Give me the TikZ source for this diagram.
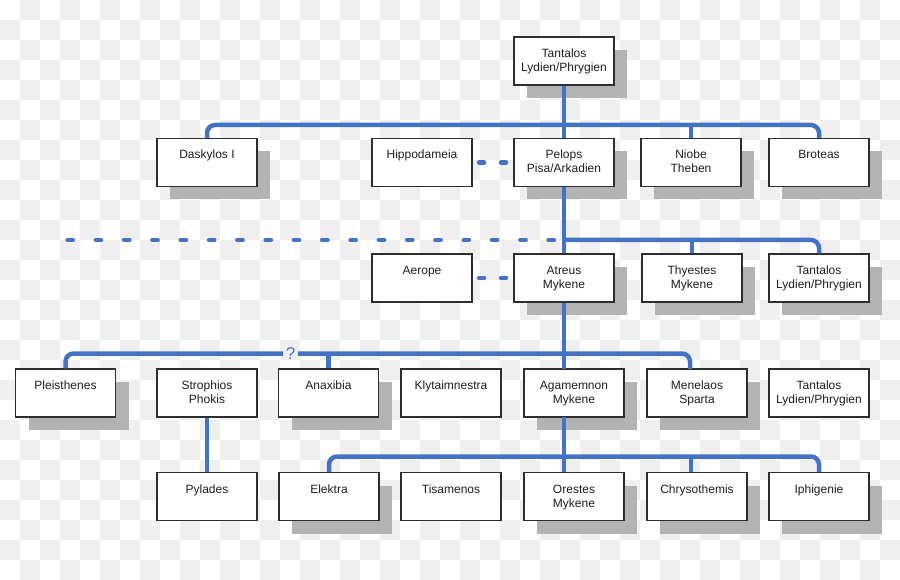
\documentclass[tikz,border=0pt]{standalone}
\usepackage{fontspec}
\setmainfont{Liberation Sans}
\usetikzlibrary{shadows}
\definecolor{famblue}{HTML}{4472C4}
\definecolor{shadowgray}{HTML}{B3B3B3}
\definecolor{checkgray}{HTML}{EFEFEF}
\definecolor{txtgray}{HTML}{1E1E1E}
\definecolor{edgegray}{HTML}{2E2E2E}
\newcommand\famtxt[1]{\parbox[c][48pt][t]{100pt}{\centering\rule{0pt}{20.5pt}#1}}
\tikzset{
  person/.style={draw=edgegray, line width=1.1pt, fill=white, inner sep=0pt,
    font=\fontsize{12}{14}\selectfont, text=txtgray},
  shadowed/.style={person, general shadow={shadow xshift=13pt, shadow yshift=-13pt, fill=shadowgray}},
  conn/.style={draw=famblue, line width=4.5pt, rounded corners=8pt},
  marriage/.style={draw=famblue, line width=4.5pt, line cap=round, dash pattern=on 5pt off 17pt, dash phase=15.5pt},
  unknownline/.style={draw=famblue, line width=4.5pt, line cap=round, dash pattern=on 5.3pt off 23pt},
}
\begin{document}
\begin{tikzpicture}[x=1pt,y=-1pt]
\useasboundingbox (0,0) rectangle (900,580);
\fill[white] (0,0) rectangle (900,580);
\foreach \i in {0,...,44}{
  \foreach \j in {0,...,28}{
    \pgfmathtruncatemacro\cpar{mod(\i+\j,2)}
    \ifnum\cpar=1 \fill[checkgray] (20*\i,20*\j) rectangle ++(20,20); \fi
  }
}
% row 0
\node[shadowed] (tant0) at (564,61) {\famtxt{Tantalos\\Lydien/Phrygien}};
% row 1
\node[shadowed] (dask) at (207,162.5) {\famtxt{Daskylos I}};
\node[person] (hipp) at (422,162.5) {\famtxt{Hippodameia}};
\node[shadowed] (pelops) at (564,162.5) {\famtxt{Pelops\\Pisa/Arkadien}};
\node[shadowed] (niobe) at (691,162.5) {\famtxt{Niobe\\Theben}};
\node[shadowed] (brot) at (819,162.5) {\famtxt{Broteas}};
% row 2
\node[person] (aerope) at (422,278) {\famtxt{Aerope}};
\node[shadowed] (atreus) at (564,278) {\famtxt{Atreus\\Mykene}};
\node[shadowed] (thyes) at (692,278) {\famtxt{Thyestes\\Mykene}};
\node[shadowed] (tant2) at (819,278) {\famtxt{Tantalos\\Lydien/Phrygien}};
% row 3
\node[shadowed] (pleis) at (65.5,393) {\famtxt{Pleisthenes}};
\node[person] (stroph) at (207,393) {\famtxt{Strophios\\Phokis}};
\node[shadowed] (anax) at (328.5,393) {\famtxt{Anaxibia}};
\node[person] (klyt) at (451,393) {\famtxt{Klytaimnestra}};
\node[shadowed] (agam) at (574,393) {\famtxt{Agamemnon\\Mykene}};
\node[shadowed] (mene) at (697,393) {\famtxt{Menelaos\\Sparta}};
\node[person] (tant3) at (819,393) {\famtxt{Tantalos\\Lydien/Phrygien}};
% row 4
\node[person] (pyl) at (207,496.5) {\famtxt{Pylades}};
\node[shadowed] (elek) at (329,496.5) {\famtxt{Elektra}};
\node[person] (tisam) at (451,496.5) {\famtxt{Tisamenos}};
\node[shadowed] (orest) at (574,496.5) {\famtxt{Orestes\\Mykene}};
\node[shadowed] (chrys) at (697,496.5) {\famtxt{Chrysothemis}};
\node[shadowed] (iphi) at (819,496.5) {\famtxt{Iphigenie}};

% junction coordinates
\coordinate (b1) at (564,125);
\coordinate (b2) at (564,240);
\coordinate (b3) at (564,353.5);
\coordinate (b4) at (564,456.5);
\coordinate (dl1) at (67.5,240);
\coordinate (dl2) at (555,240);
\coordinate (menedrop) at (690,369);
\coordinate (chrysdrop) at (691,472);
\coordinate (agamtop) at (564,369);
\coordinate (agambot) at (564,417);
\coordinate (oresttop) at (564,472);
\node[text=famblue, font=\fontsize{17}{17}\selectfont, inner sep=0pt] (q) at (290.5,353.5) {?};

% connectors
\draw[conn] (tant0.south) -- (pelops.north);
\draw[conn] (dask.north) |- (b1) -| (brot.north);
\draw[conn] (niobe.north) -- (niobe.north |- b1);
\draw[conn] (pelops.south) -- (atreus.north);
\draw[conn] (b2) -| (tant2.north);
\draw[conn] (thyes.north) -- (thyes.north |- b2);
\draw[unknownline] (dl1) -- (dl2);
\draw[marriage] (hipp.east) -- (pelops.west);
\draw[marriage] (aerope.east) -- (atreus.west);
\draw[conn] (atreus.south) -- (agamtop);
\draw[conn] (pleis.north) |- ([xshift=-2.5pt]q.west |- b3);
\draw[conn] ([xshift=2.5pt]q.east |- b3) -- (b3) -| (menedrop);
\draw[conn] (anax.north) -- (anax.north |- b3);
\draw[conn] (agambot) -- (oresttop);
\draw[conn] (elek.north) |- (b4) -| (iphi.north);
\draw[conn] (chrysdrop) -- (chrysdrop |- b4);
\draw[conn] (stroph.south) -- (pyl.north);
\end{tikzpicture}
\end{document}
